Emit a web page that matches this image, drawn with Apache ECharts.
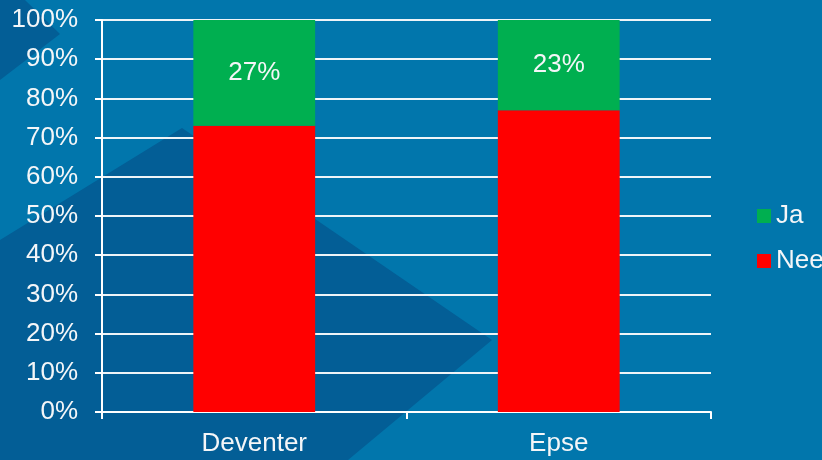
<!DOCTYPE html>
<html>
<head>
<meta charset="utf-8">
<script src="https://cdn.jsdelivr.net/npm/echarts@6/dist/echarts.min.js"></script>
<style>
html,body{margin:0;padding:0;background:#0176AC;}
#chart{width:822px;height:460px;}
</style>
</head>
<body>
<div id="chart"></div>
<script>
var categories = ['Deventer', 'Epse'];
var neeValues = [73, 77];
var jaValues = [27, 23];
var yTicks = [0, 10, 20, 30, 40, 50, 60, 70, 80, 90, 100];

var LIGHT = '#0176AC';
var DARK = '#035E96';
var FONT = 'Liberation Sans, Arial, sans-serif';
var TXT = '#F4F6F8';

var chart = echarts.init(document.getElementById('chart'));
chart.setOption({
  backgroundColor: LIGHT,
  animation: false,
  graphic: [
    { type: 'polygon', z: -10, silent: true,
      shape: { points: [[0,0],[25,0],[60,34],[0,80]] },
      style: { fill: DARK } },
    { type: 'polygon', z: -10, silent: true,
      shape: { points: [[0,240],[182,128],[492,340],[348,460],[0,460]] },
      style: { fill: DARK } }
  ],
  grid: { left: 102, right: 111, top: 20, bottom: 48, containLabel: false },
  legend: {
    orient: 'vertical',
    left: 752,
    top: 198,
    data: ['Ja', 'Nee'],
    itemWidth: 14,
    itemHeight: 14,
    itemGap: 19,
    icon: 'rect',
    textStyle: { color: TXT, fontSize: 26, fontFamily: FONT, lineHeight: 26 }
  },
  xAxis: {
    type: 'category',
    data: categories,
    axisLine: { lineStyle: { color: '#fff', width: 2 } },
    axisTick: { show: true, length: 7, lineStyle: { color: '#fff', width: 2 } },
    axisLabel: { color: TXT, fontSize: 26, fontFamily: FONT, margin: 19 }
  },
  yAxis: {
    type: 'value',
    min: 0,
    max: 100,
    interval: 10,
    axisLine: { show: true, lineStyle: { color: '#fff', width: 2 } },
    axisTick: { show: true, length: 7, lineStyle: { color: '#fff', width: 2 } },
    splitLine: { lineStyle: { color: '#EEF4F8', width: 2 } },
    axisLabel: {
      color: TXT, fontSize: 26, fontFamily: FONT, margin: 24,
      customValues: yTicks,
      formatter: function (v) { return v + '%'; }
    }
  },
  series: [
    { name: 'Nee', type: 'bar', stack: 'total', data: neeValues, barWidth: '40%',
      itemStyle: { color: '#FF0000' } },
    { name: 'Ja', type: 'bar', stack: 'total', data: jaValues, barWidth: '40%',
      itemStyle: { color: '#00AF50' },
      label: { show: true, position: 'inside', color: TXT, fontSize: 26, fontFamily: FONT,
        formatter: function (p) { return p.value + '%'; } } }
  ]
});
</script>
</body>
</html>
